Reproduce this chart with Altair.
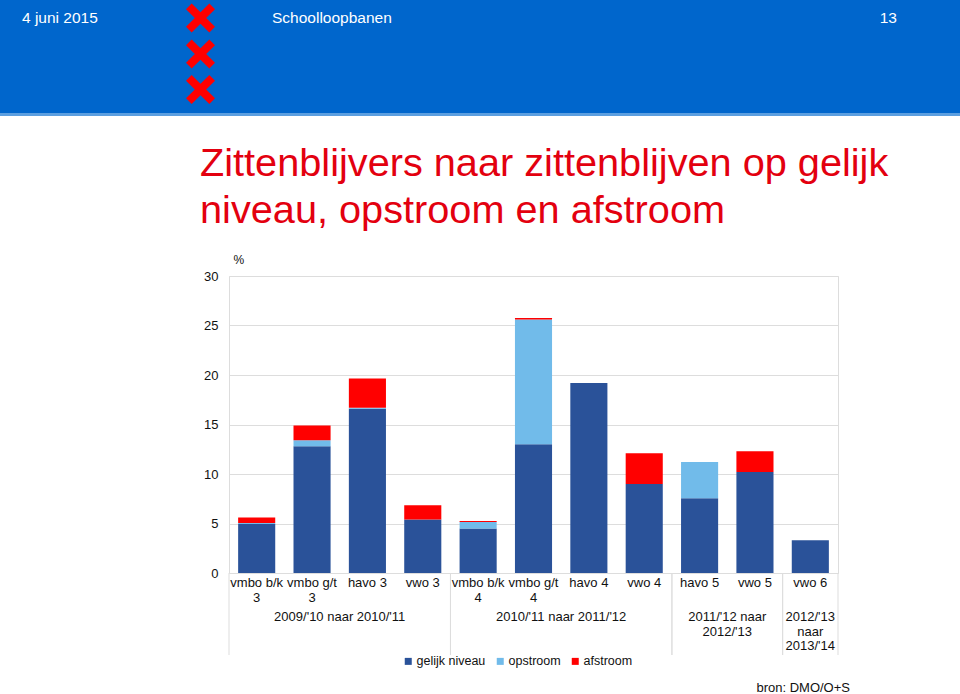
import altair as alt
import pandas as pd

# ---------------- data ----------------
categories = ["vmbo b/k\n3", "vmbo g/t\n3", "havo 3", "vwo 3",
              "vmbo b/k\n4", "vmbo g/t\n4", "havo 4", "vwo 4",
              "havo 5", "vwo 5", "vwo 6"]
groups = (["2009/'10 naar 2010/'11"] * 4
          + ["2010/'11 naar 2011/'12"] * 4
          + ["2011/'12 naar\n2012/'13"] * 2
          + ["2012/'13\nnaar\n2013/'14"])
series = ["gelijk niveau", "opstroom", "afstroom"]
gelijk = [4.95, 12.8, 16.6, 5.4, 4.5, 13.0, 19.2, 9.0, 7.55, 10.2, 3.3]
opstroom = [0.1, 0.6, 0.1, 0.0, 0.65, 12.6, 0.0, 0.0, 3.65, 0.0, 0.0]
afstroom = [0.55, 1.5, 2.95, 1.45, 0.1, 0.15, 0.0, 3.1, 0.0, 2.1, 0.0]
y_ticks = [0, 5, 10, 15, 20, 25, 30]

title_text = "Zittenblijvers naar zittenblijven op gelijk\nniveau, opstroom en afstroom"
header_left = "4 juni 2015"
header_mid = "Schoolloopbanen"
header_right = "13"
source_text = "bron: DMO/O+S"

colors = ["#2A5299", "#71BBEA", "#FF0000"]
FONT = "Liberation Sans"

W, H = 609, 297
PL, PT = 229, 276

rows = []
for i, (c, g) in enumerate(zip(categories, groups)):
    for k, (s, vals) in enumerate(zip(series, [gelijk, opstroom, afstroom])):
        rows.append({"idx": i, "cat": c, "groep": g, "reeks": s, "ord": k, "waarde": vals[i]})
df = pd.DataFrame(rows)
cats = pd.DataFrame({"idx": list(range(len(categories))), "cat": categories, "groep": groups})

xscale = alt.Scale(domain=[-0.5, len(categories) - 0.5], nice=False, zero=False)

bars = (
    alt.Chart(df)
    .transform_stack(stack="waarde", groupby=["idx"], as_=["y0", "y1"],
                     sort=[alt.SortField("ord", order="ascending")])
    .transform_calculate(lo="datum.idx - 0.335", hi="datum.idx + 0.335")
    .mark_bar()
    .encode(
        x=alt.X("lo:Q", scale=xscale, axis=None),
        x2="hi:Q",
        y=alt.Y("y0:Q", scale=alt.Scale(domain=[0, 30], nice=False),
                axis=alt.Axis(values=y_ticks, grid=True, gridColor="#DDDDDD",
                              domain=False, ticks=False, labelPadding=11,
                              labelFontSize=13, labelColor="#111111", labelFont=FONT,
                              title="%", titleAngle=0, titleX=4, titleY=-17,
                              titleAlign="left", titleBaseline="middle",
                              titleFontWeight="normal", titleFontSize=12,
                              titleFont=FONT, titleColor="#111111")),
        y2="y1:Q",
        color=alt.Color("reeks:N", scale=alt.Scale(domain=series, range=colors),
                        legend=alt.Legend(title=None, orient="none", legendX=173, legendY=379,
                                          direction="horizontal", symbolType="square",
                                          symbolSize=49, symbolStrokeWidth=0,
                                          labelFontSize=12.5, labelFont=FONT,
                                          labelColor="#111111", labelOffset=2,
                                          columnPadding=8, padding=0)),
        order=alt.Order("ord:Q"),
    )
)

cat_labels = (
    alt.Chart(cats)
    .mark_text(baseline="top", align="center", lineBreak="\n", lineHeight=15,
               fontSize=13, font=FONT, color="#111111")
    .encode(x=alt.X("idx:Q", scale=xscale), y=alt.value(301), text="cat:N")
)

group_labels = (
    alt.Chart(cats)
    .transform_aggregate(mid="mean(idx)", groupby=["groep"])
    .mark_text(baseline="top", align="center", lineBreak="\n", lineHeight=14.5,
               fontSize=13, font=FONT, color="#111111")
    .encode(x=alt.X("mid:Q", scale=xscale), y=alt.value(335), text="groep:N")
)

separators = (
    alt.Chart(cats)
    .transform_aggregate(lo="min(idx)", hi="max(idx)", groupby=["groep"])
    .transform_calculate(a="datum.lo - 0.5", b="datum.hi + 0.5")
    .transform_fold(["a", "b"], as_=["k", "pos"])
    .mark_rule(color="#DDDDDD", strokeWidth=1)
    .encode(x=alt.X("pos:Q", scale=xscale), y=alt.value(H), y2=alt.value(379))
)

# ---------------- slide decoration ----------------
header = alt.Chart(pd.DataFrame({"a": [1]})).mark_rect(color="#0066CC").encode(
    x=alt.value(-PL), x2=alt.value(960 - PL), y=alt.value(-PT), y2=alt.value(113 - PT))
header_line = alt.Chart(pd.DataFrame({"a": [1]})).mark_rect(color="#5C9FE0").encode(
    x=alt.value(-PL), x2=alt.value(960 - PL), y=alt.value(113 - PT), y2=alt.value(116 - PT))

x_path = ("M-0.61,-1 L0,-0.39 L0.61,-1 L1,-0.61 L0.39,0 L1,0.61 L0.61,1 L0,0.39 "
          "L-0.61,1 L-1,0.61 L-0.39,0 L-1,-0.61 Z")
crosses = [
    alt.Chart(pd.DataFrame({"a": [1]})).mark_point(
        shape=x_path, filled=True, color="#FF0000", opacity=1, size=841, strokeWidth=0
    ).encode(x=alt.value(200.5 - PL), y=alt.value(cy - PT))
    for cy in [18, 54, 89.5]
]

def label(text, x, y, size, color, align="left", baseline="middle", **kw):
    return alt.Chart(pd.DataFrame({"t": [text]})).mark_text(
        align=align, baseline=baseline, fontSize=size, font=FONT, color=color, **kw
    ).encode(text="t:N", x=alt.value(x - PL), y=alt.value(y - PT))

t_date = label(header_left, 22, 18, 15.5, "white")
t_mid = label(header_mid, 272, 18, 15.5, "white")
t_num = label(header_right, 897, 18, 15.5, "white", align="right")
t_title = label(title_text, 200, 176, 39.7, "#E3000F", baseline="alphabetic",
                lineBreak="\n", lineHeight=47)
t_src = label(source_text, 850, 688, 13, "#111111", align="right")

chart = alt.layer(
    header, header_line, *crosses, t_date, t_mid, t_num, t_title,
    bars, separators, cat_labels, group_labels, t_src
).properties(
    width=W, height=H,
    padding={"left": PL, "top": PT, "right": 960 - PL - W, "bottom": 694 - PT - H},
    autosize="none",
    background="white",
).configure_view(stroke="#DDDDDD").configure(font=FONT)

chart.save("out.html", embed_options={"renderer": "svg", "actions": False})
